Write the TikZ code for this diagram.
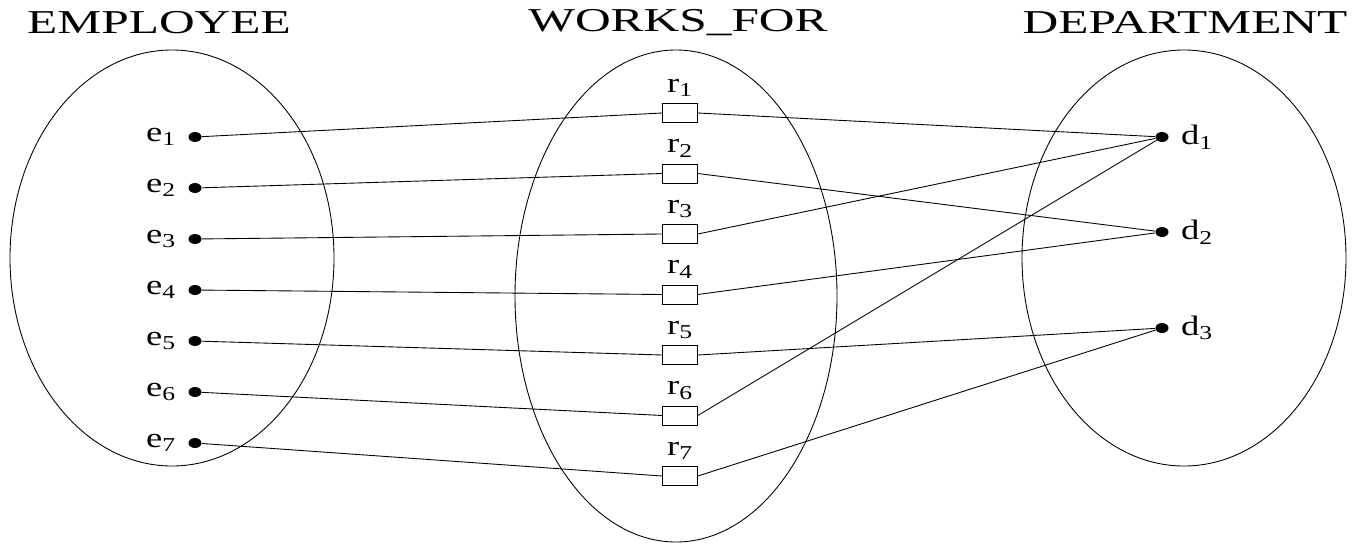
\documentclass[tikz,border=0pt]{standalone}
\usepackage{fontspec}
\setmainfont{Liberation Serif}
\newfontfamily\titlefont[FakeStretch=1.48]{Liberation Serif}
\newfontfamily\labelfont[FakeStretch=1.3]{Liberation Serif}
\usepackage{xcolor}
\usepackage{tikz}
\usetikzlibrary{shapes,positioning}

\begin{document}
\begin{tikzpicture}[
  dot/.style={ellipse, fill=black, inner sep=0pt, minimum width=0.26cm, minimum height=0.2cm},
  relbox/.style={rectangle, draw, inner sep=0pt, minimum width=0.7cm, minimum height=0.38cm},
  settitle/.style={font=\titlefont\fontsize{19}{22}\selectfont},
  lbl/.style={font=\labelfont\fontsize{16}{18}\selectfont},
  link/.style={line width=0.5pt}
]
\useasboundingbox (0,0) rectangle (27.42,-10.88);

% Entity sets and relationship set
\draw[link] (3.44,-5.16) ellipse [x radius=3.24cm, y radius=4.16cm];
\draw[link] (13.52,-5.92) ellipse [x radius=3.22cm, y radius=4.92cm];
\draw[link] (23.68,-5.16) ellipse [x radius=3.24cm, y radius=4.16cm];

% Titles
\node[settitle] (emptitle) at (3.18,-0.46) {EMPLOYEE};
\node[settitle] (wftitle) at (13.56,-0.46) {WORKS\_FOR};
\node[settitle] (deptitle) at (23.7,-0.46) {DEPARTMENT};

% Employees
\foreach \i in {1,...,7} {
  \node[dot, label={[lbl, label distance=0.12cm]left:e\textsubscript{\i}}] (e\i) at (3.9,{-2.74-1.02*(\i-1)}) {};
}

% Relationship instances
\foreach \i in {1,...,7} {
  \node[relbox, label={[lbl, label distance=0cm]above:r\textsubscript{\i}}] (r\i) at (13.6,{-2.26-1.21*(\i-1)}) {};
}

% Departments
\node[dot, label={[lbl, label distance=0.12cm]right:d\textsubscript{1}}] (d1) at (23.24,-2.74) {};
\node[dot, label={[lbl, label distance=0.12cm]right:d\textsubscript{2}}] (d2) at (23.24,-4.64) {};
\node[dot, label={[lbl, label distance=0.12cm]right:d\textsubscript{3}}] (d3) at (23.24,-6.56) {};

% Links
\foreach \i in {1,...,7} \draw[link] (e\i) -- (r\i.west);
\foreach \r/\d in {1/1,2/2,3/1,4/2,5/3,6/1,7/3} \draw[link] (r\r.east) -- (d\d);

\end{tikzpicture}
\end{document}
